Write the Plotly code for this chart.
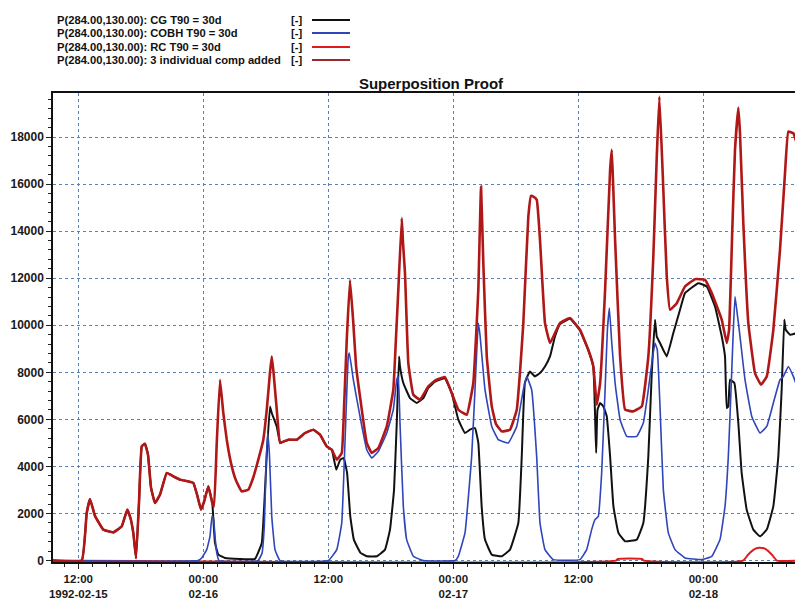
import pandas as pd
import plotly.graph_objects as go

# ---------------- data (hours after 1992-02-15 12:00) ----------------
T0 = "1992-02-15 12:00"

sum_hours = [-2.5, 0.33, 0.8, 1.12, 1.60, 2.40, 3.36, 4.17, 4.70, 5.01, 5.28, 5.54, 5.83, 6.09, 6.40,
             6.69, 6.98, 7.36, 7.84, 8.49, 9.12, 9.76, 10.56, 11.04, 11.40, 11.78, 12.07, 12.48, 12.86,
             13.03, 13.29, 13.60, 13.92, 14.25, 14.73, 15.14, 15.69, 16.32, 16.77, 17.28, 17.76, 18.09,
             18.40, 18.57, 18.74, 19.05, 19.37, 19.75, 20.16, 20.97, 21.76, 22.56, 23.20, 23.85, 24.33,
             24.81, 25.29, 25.51, 25.77, 26.08, 26.40, 26.66, 27.04, 27.69, 28.17, 28.80, 29.61, 30.24,
             30.50, 30.72, 31.05, 31.17, 31.36, 31.68, 32.16, 32.80, 33.60, 34.24, 35.19, 35.85, 36.48,
             37.29, 37.92, 38.18, 38.40, 38.66, 38.88, 39.21, 39.69, 40.10, 40.65, 41.44, 42.09, 42.40,
             42.72, 43.20, 43.46, 43.68, 44.01, 44.32, 44.80, 45.28, 45.76, 46.24, 47.20, 48.16, 48.96,
             49.44, 49.77, 50.09, 50.57, 51.05, 51.21, 51.34, 51.53, 52.01, 52.49, 53.28, 54.09, 54.72,
             55.20, 55.53, 55.78, 56.10, 56.49, 56.80, 57.45, 58.24, 59.20, 60.16, 60.81, 61.77, 62.25,
             62.47, 62.78, 63.04, 63.36, 63.52, 63.84, 64.32, 64.96, 65.54, 66.09, 66.72, 67.36, 67.84,
             68.16, 68.64, 68.99]
sum_vals = [0, 0, 2000, 2620, 1900, 1316, 1200, 1456, 2165, 1800, 1176, 100, 2500, 4853, 4968,
            4500, 3100, 2450, 2800, 3724, 3580, 3440, 3367, 3300, 2800, 2165, 2500, 3155, 2450,
            2300, 5000, 7685, 6271, 5138, 4004, 3400, 2942, 3015, 3500, 4289, 5138, 6411,
            8000, 8675, 8000, 6411, 5000, 5066, 5138, 5138, 5422, 5562, 5350, 4853, 4713,
            4289, 4573, 6500, 9384, 11931, 10093, 8300, 6976, 5000, 4573, 4785, 5703, 7261,
            9500, 11507, 14551, 13500, 12216, 8394, 7048, 6836, 7400, 7650, 7800, 7120, 6411,
            6199, 7545, 9500, 11507, 15893, 12640, 8675, 6552, 5800, 5490, 5562, 6411, 8000,
            10093, 14620, 15500, 15468, 15329, 13630, 10093, 9244, 9668, 10093, 10305, 9808, 8959,
            8250, 6624, 7545, 11507, 16600, 17451, 16000, 13630, 8675, 6411, 6340, 6552, 8675,
            12923, 17167, 19715, 16460, 12072, 10657, 10940, 11647, 11960, 11931, 11367, 10233, 9244,
            9808, 14054, 17451, 19250, 18160, 14338, 10093, 7970, 7473, 7826, 9808, 13205, 16460,
            18230, 18160, 17700]

cg_hours = [-2.5, 0.33, 0.8, 1.12, 1.60, 2.40, 3.36, 4.17, 4.70, 5.01, 5.28, 5.54, 5.83, 6.09, 6.40,
            6.69, 6.98, 7.36, 7.84, 8.49, 9.12, 9.76, 10.56, 11.04, 11.40, 11.78, 12.07, 12.48, 12.86,
            13.12, 13.44, 14.08, 15.52, 16.96, 17.61, 17.86, 18.09, 18.40, 18.57, 19.05, 19.37,
            19.75, 20.16, 20.97, 21.76, 22.56, 23.20, 23.85, 24.33,
            24.76, 25.15, 25.48, 25.80, 26.11, 26.45, 27.09, 27.69, 28.65, 29.44, 29.92, 30.31, 30.57,
            30.79, 30.88, 31.20, 31.84, 32.49, 33.12, 33.60, 34.24, 35.19, 35.85,
            36.48, 37.12, 37.60, 38.08, 38.40, 38.72, 39.04, 39.69, 40.65, 41.44, 42.24, 42.57, 42.87,
            43.35, 43.83, 44.32, 44.80, 45.28, 45.76, 46.24, 47.20, 48.16, 48.96, 49.44,
            49.71, 49.84, 50.09, 50.40, 50.73, 51.05, 51.37, 51.85, 52.49, 53.61, 54.24, 54.72, 55.05,
            55.36, 55.53, 55.84, 56.49, 57.12, 57.76, 58.24, 59.52, 60.33, 61.12, 61.77, 62.08, 62.25,
            62.40, 62.56, 62.98, 63.36, 63.68, 64.16, 64.80, 65.44, 66.09, 66.72, 67.20, 67.52, 67.77,
            67.91, 68.32, 68.99]
cg_vals = [0, 0, 2000, 2620, 1900, 1316, 1200, 1456, 2165, 1800, 1176, 100, 2500, 4853, 4968,
           4500, 3100, 2450, 2800, 3724, 3580, 3440, 3367, 3300, 2800, 2165, 2500, 3155, 2450,
           750, 255, 113, 70, 70, 750, 2450, 4500, 6550, 6271, 5700, 5000,
           5066, 5138, 5138, 5422, 5562, 5350, 4853, 4713,
           3864, 4289, 4360, 3724, 1880, 892, 327, 183, 183, 467, 1316, 3015, 5846,
           8675, 8250, 7545, 6908, 6695, 6908, 7333, 7600, 7750, 7100,
           5987, 5422, 5562, 5634, 5000, 2305, 892, 255, 183, 467, 1600, 4430, 7545,
           8038, 7826, 7970, 8250, 8675, 9524, 10050, 10280, 9780, 8930, 8230,
           4573, 6411, 6695, 6552, 6127, 4430, 2305, 1176, 820, 892, 1600, 4430, 7970,
           10233, 9524, 9244, 8675, 9668, 10657, 11367, 11790, 11647, 10798, 9524, 8675, 6483,
           6552, 7685, 7545, 5846, 3724, 2165, 1316, 1030, 1316, 2305, 4430, 7261, 10233,
           9808, 9596, 9668]

cobh_hours = [-2.5, 11.49, 11.85, 12.33, 12.64, 12.84, 12.98, 13.12, 13.29, 13.51, 17.25, 17.63, 17.86,
              18.02, 18.18, 18.35, 18.57, 18.88, 19.37, 24.00, 24.81, 25.29, 25.61, 25.92, 26.02, 26.40,
              27.04, 27.69, 28.17, 28.80, 29.61, 30.24, 30.57, 30.72, 30.88, 31.20, 31.52, 32.16, 33.12,
              36.16, 36.48, 37.12, 37.76, 38.08, 38.40, 38.56, 39.04, 39.69, 40.32, 41.28, 42.09, 42.72,
              43.04, 43.52, 44.00, 44.32, 44.80, 45.60, 48.16, 48.80, 49.28, 49.60, 49.92, 50.24, 50.57,
              50.79, 50.98, 51.21, 51.53, 52.01, 52.65, 53.61, 54.24, 54.72, 55.05, 55.36, 55.58, 55.84,
              56.16, 56.64, 57.28, 58.24, 59.85, 60.81, 61.60, 62.08, 62.40, 62.66, 62.88, 63.04, 63.21,
              63.52, 64.00, 64.65, 65.44, 66.09, 66.72, 67.36, 67.68, 68.16, 68.64, 68.99]
cobh_vals = [0, 0, 113, 467, 1030, 1900, 1800, 1030, 327, 0, 0, 300, 1500,
             4000, 5422, 4500, 1880, 467, 0, 0, 467, 1600, 5138, 8675, 8820, 7685,
             6127, 4713, 4360, 4640, 5422, 6411, 7685, 7826, 5846, 2305, 892, 183, 0,
             0, 183, 1176, 4430, 7261, 10093, 9596, 7261, 5703, 5138, 5000, 5703, 7261,
             7826, 7261, 4430, 1600, 467, 42, 42, 467, 1316, 1741, 1880, 3724, 7261,
             9808, 10730, 9244, 7545, 5987, 5278, 5278, 5846, 7261, 8394, 9244, 8959, 6552,
             3015, 1176, 467, 113, 42, 183, 892, 2305, 4430, 7261, 9808, 11222, 10657,
             9524, 7685, 6127, 5422, 5703, 6695, 7685, 7826, 8250, 7826, 7400]

rc_hours = [-2.5, 51.60, 51.80, 54.10, 54.30, 63.81, 64.29, 64.96, 65.44, 66.02, 66.59, 67.07, 68.99]
rc_vals = [0, 0, 70, 70, 0, 0, 250, 500, 550, 480, 250, 0, 0]

x_tick_hours = [0, 12, 24, 36, 48, 60]
x_tick_text = ["12:00<br>1992-02-15", "00:00<br>02-16", "12:00", "00:00<br>02-17", "12:00",
               "00:00<br>02-18"]

legend_names = ["P(284.00,130.00): CG T90 = 30d",
                "P(284.00,130.00): COBH T90 = 30d",
                "P(284.00,130.00): RC T90 = 30d",
                "P(284.00,130.00): 3 individual comp added"]
legend_colors = ["#111111", "#2f45b8", "#e01b1b", "#9b2a2a"]

# ---------------- helpers ----------------
t0 = pd.Timestamp(T0)
FONT = "Liberation Sans, Arial, sans-serif"


def times(hours):
    return [(t0 + pd.Timedelta(hours=h)).strftime("%Y-%m-%d %H:%M:%S") for h in hours]


fig = go.Figure()
fig.add_trace(go.Scatter(x=times(rc_hours), y=rc_vals, mode="lines",
                         line=dict(color=legend_colors[2], width=2, shape="spline", smoothing=0.5),
                         name=legend_names[2]))
fig.add_trace(go.Scatter(x=times(cg_hours), y=cg_vals, mode="lines",
                         line=dict(color=legend_colors[0], width=2, shape="spline", smoothing=0.3),
                         name=legend_names[0]))
fig.add_trace(go.Scatter(x=times(cobh_hours), y=cobh_vals, mode="lines",
                         line=dict(color=legend_colors[1], width=1.6, shape="spline", smoothing=0.3),
                         name=legend_names[1]))
fig.add_trace(go.Scatter(x=times(sum_hours), y=sum_vals, mode="lines",
                         line=dict(color="#b01818", width=2.6, shape="spline", smoothing=0.3),
                         name=legend_names[3]))

x_start = (t0 + pd.Timedelta(hours=-2.43)).strftime("%Y-%m-%d %H:%M:%S")
x_end_ts = t0 + pd.Timedelta(hours=68.8)
x_end = x_end_ts.strftime("%Y-%m-%d %H:%M:%S")
minor_vals = [d.strftime("%Y-%m-%d %H:%M:%S")
              for d in pd.date_range(t0 - pd.Timedelta(minutes=160), x_end_ts, freq="80min")]

fig.update_xaxes(
    type="date",
    range=[x_start, x_end],
    tickmode="array", tickvals=times(x_tick_hours), ticktext=x_tick_text,
    ticks="outside", ticklen=5, tickwidth=1, tickcolor="#222",
    showgrid=True, gridcolor="#5a80b8", griddash="dot", gridwidth=1,
    showline=True, linecolor="#111", linewidth=1.5, mirror=True,
    zeroline=False,
    tickfont=dict(family=FONT, size=11.5, color="#1a1a1a", weight="bold"),
    minor=dict(tickmode="array", tickvals=minor_vals, ticks="outside", ticklen=3,
               tickcolor="#222", showgrid=False),
)
fig.update_yaxes(
    range=[-60, 19870],
    tickmode="linear", tick0=0, dtick=2000, tickformat="d",
    ticks="outside", ticklen=5, tickwidth=1, tickcolor="#222",
    showgrid=True, gridcolor="#5a80b8", griddash="dot", gridwidth=1,
    showline=True, linecolor="#111", linewidth=1.5, mirror=False,
    zeroline=False,
    tickfont=dict(family=FONT, size=12, color="#1a1a1a", weight="bold"),
    minor=dict(tickmode="linear", tick0=0, dtick=400, ticks="outside", ticklen=3,
               tickcolor="#222", showgrid=False),
)

# custom legend (text, unit, line sample)
row_px = [20, 33, 47, 60]
plot_top, plot_bottom, plot_left, plot_w = 93, 562, 53, 742
for name, color, ypx in zip(legend_names, legend_colors, row_px):
    yp = (plot_bottom - ypx) / (plot_bottom - plot_top)
    fig.add_annotation(xref="paper", yref="paper", x=(55 - plot_left) / plot_w, y=yp,
                       xanchor="left", yanchor="middle", showarrow=False, text=name,
                       font=dict(family=FONT, size=11.2, color="#111", weight="bold"))
    fig.add_annotation(xref="paper", yref="paper", x=(296 - plot_left) / plot_w, y=yp,
                       xanchor="center", yanchor="middle", showarrow=False, text="[-]",
                       font=dict(family=FONT, size=11.2, color="#111", weight="bold"))
    fig.add_shape(type="line", xref="paper", yref="paper",
                  x0=(312 - plot_left) / plot_w, x1=(350 - plot_left) / plot_w, y0=yp, y1=yp,
                  line=dict(color=color, width=2))

fig.update_layout(
    width=795, height=604,
    margin=dict(l=53, r=0, t=93, b=42),
    paper_bgcolor="white", plot_bgcolor="white",
    showlegend=False,
    title=dict(text="Superposition Proof", xref="paper", x=(431 - 53) / 742, xanchor="center",
               yref="container", y=1 - 84 / 604, yanchor="middle",
               font=dict(family=FONT, size=15, color="#111", weight="bold")),
)

fig.write_html("out.html")
